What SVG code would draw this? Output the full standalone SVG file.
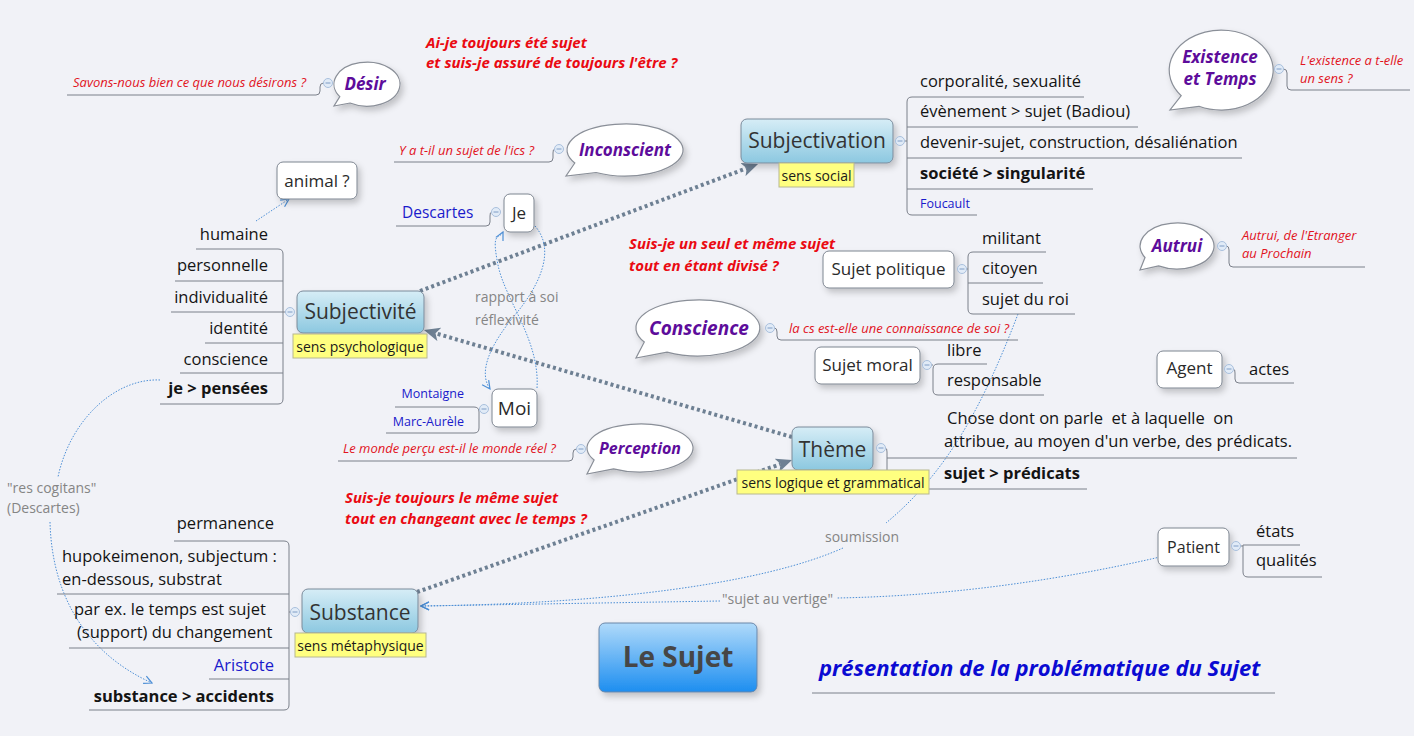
<svg xmlns="http://www.w3.org/2000/svg" width="1414" height="736" viewBox="0 0 1414 736">
<defs>
<style>
text{font-family:"Open Sans","Noto Sans","DejaVu Sans",sans-serif}
.br{font-size:16.5px;fill:#141414}
.sm{font-size:12.5px}
.b{font-weight:bold}
.end{text-anchor:end}
.red{font-size:13px;font-style:italic;fill:#e1141e}
.q{font-size:15px;font-weight:bold;font-style:italic;fill:#ea0a12}
.bub{font-weight:bold;font-style:italic;fill:#5d0c9b;text-anchor:middle}
.blue{fill:#1a1acb}
.gray{font-size:14px;fill:#858585}
.nt{font-size:21px;fill:#333;text-anchor:middle}
.nw{font-size:17px;fill:#2a2a2a;text-anchor:middle}
.lab{font-size:14px;fill:#1a1a1a;text-anchor:middle}
.ln{fill:none;stroke:#7b808a;stroke-width:1}
.bx{fill:url(#gb);stroke:#7a8a9a;stroke-width:1}
.wx{fill:#fff;stroke:#7d8590;stroke-width:1}
.yl{fill:#ffff80;stroke:#b8b890;stroke-width:1}
.bb{fill:#fff;stroke:#8a8f98;stroke-width:1.2}
.rel{fill:none;stroke:#6e8093;stroke-width:4;stroke-dasharray:3 3}
.thin{fill:none;stroke:#4d8fd6;stroke-width:1;stroke-dasharray:1.5 1.5}
</style>
<linearGradient id="gb" x1="0" y1="0" x2="0" y2="1">
<stop offset="0" stop-color="#d6edf6"/><stop offset="1" stop-color="#8cc8e0"/>
</linearGradient>
<linearGradient id="gc" x1="0" y1="0" x2="0" y2="1">
<stop offset="0" stop-color="#b0dafa"/><stop offset="1" stop-color="#1d8ef0"/>
</linearGradient>
<filter id="sh" x="-20%" y="-20%" width="150%" height="170%">
<feDropShadow dx="3" dy="4" stdDeviation="3" flood-color="#000" flood-opacity="0.2"/>
</filter>
<g id="c"><circle r="4.5" fill="#e1ebf7" stroke="#a9c0dd" stroke-width="1"/><path d="M-2.5 0H2.5" stroke="#7f9cc5" stroke-width="1"/></g>
<marker id="ah" markerUnits="userSpaceOnUse" markerWidth="16" markerHeight="14" refX="4" refY="7" orient="auto"><path d="M0,0 L16,7 L0,14 L4,7 Z" fill="#6e8093"/></marker>
<marker id="ta" markerUnits="userSpaceOnUse" markerWidth="10" markerHeight="10" refX="9" refY="5" orient="auto"><path d="M1,1 L9,5 L1,9" fill="none" stroke="#4d8fd6" stroke-width="1.2"/></marker>
</defs>
<rect width="1414" height="736" fill="#f1f2f7"/>

<g id="connectors">
<path class="rel" d="M420,291 L746.8,168.2" marker-end="url(#ah)"/>
<path class="rel" d="M792,437 L435.5,333.3" marker-end="url(#ah)"/>
<path class="rel" d="M417,592 L780.7,464" marker-end="url(#ah)"/>
<path class="thin" d="M256,221 L289,199" marker-end="url(#ta)"/>
<path class="thin" d="M535,226 C556,250 540,285 515,315 S478,372 490,389" marker-end="url(#ta)"/>
<path class="thin" d="M537,388 C540,340 505,300 498,265 S499,240 503,232" marker-end="url(#ta)"/>
<path class="thin" d="M160,380 C115,378 70,420 58,477"/>
<path class="thin" d="M50,522 C52,600 90,655 152,683" marker-end="url(#ta)"/>
<path class="thin" d="M1018,314 C985,400 950,470 886,523"/>
<path class="thin" d="M843,548 C760,585 600,604 421,606" marker-end="url(#ta)"/>
<path class="thin" d="M1160,557 C1060,580 950,596 837,598"/>
<path class="thin" d="M720,601 L421,606" marker-end="url(#ta)"/>
<text class="gray" x="475" y="302">rapport à soi</text>
<text class="gray" x="475" y="325">réflexivité</text>
<text class="gray" x="7" y="493">"res cogitans"</text>
<text class="gray" x="7" y="513">(Descartes)</text>
<text class="gray" x="825" y="542">soumission</text>
<text class="gray" x="722" y="604">"sujet au vertige"</text>
</g>

<g id="q1"><text class="q" x="426" y="48">Ai-je toujours été sujet</text><text class="q" x="426" y="68">et suis-je assuré de toujours l'être ?</text></g>
<g id="q2"><text class="q" x="629" y="249">Suis-je un seul et même sujet</text><text class="q" x="629" y="271">tout en étant divisé ?</text></g>
<g id="q3"><text class="q" x="345" y="503">Suis-je toujours le même sujet</text><text class="q" x="345" y="524">tout en changeant avec le temps ?</text></g>

<g id="desir">
<path class="ln" d="M323.5,83 Q320,83 320,87 V91 Q320,95 316,95 H67"/>
<text class="red" x="73" y="87">Savons-nous bien ce que nous désirons ?</text>
<path class="bb" filter="url(#sh)" d="M339.8,96.6 L334,106 L350,103 A33,22 0 1 0 339.8,96.6 Z"/>
<text class="bub" x="365" y="90" font-size="17">Désir</text>
<use href="#c" x="328" y="83"/>
</g>

<g id="inconscient">
<path class="ln" d="M554.5,149 Q553,149 553,153 V158 Q553,162 549,162 H394"/>
<text class="red" x="399" y="155">Y a t-il un sujet de l'ics ?</text>
<path class="bb" filter="url(#sh)" d="M574.8,163 L566,176 L596,172.5 A58,26 0 1 0 574.8,163 Z"/>
<text class="bub" x="625" y="156" font-size="17">Inconscient</text>
<use href="#c" x="559" y="149"/>
</g>

<g id="existence">
<path class="ln" d="M1283.5,69 Q1287,69 1287,73 V86 Q1287,90 1291,90 H1410"/>
<text class="red" x="1300" y="65">L'existence a t-elle</text>
<text class="red" x="1300" y="83">un sens ?</text>
<path class="bb" filter="url(#sh)" d="M1181.2,95.7 L1170,110 L1199,106.3 A52,40 0 1 0 1181.2,95.7 Z"/>
<text class="bub" x="1220" y="63" font-size="17">Existence</text>
<text class="bub" x="1220" y="85" font-size="17">et Temps</text>
<use href="#c" x="1279" y="69"/>
</g>

<g id="autrui">
<path class="ln" d="M1226.5,246 Q1229,246 1229,250 V263 Q1229,267 1233,267 H1365"/>
<text class="red" x="1242" y="240">Autrui, de l'Etranger</text>
<text class="red" x="1242" y="258">au Prochain</text>
<path class="bb" filter="url(#sh)" d="M1145,257.5 L1140,270 L1158.5,265.9 A37,23 0 1 0 1145,257.5 Z"/>
<text class="bub" x="1177" y="252" font-size="17">Autrui</text>
<use href="#c" x="1222" y="246"/>
</g>

<g id="conscience">
<path class="ln" d="M774.5,328 Q777,328 777,332 V336 Q777,340 781,340 H1018"/>
<text class="red" x="789" y="333">la cs est-elle une connaissance de soi ?</text>
<path class="bb" filter="url(#sh)" d="M644.3,342 L636,358 L667,352.2 A62,28 0 1 0 644.3,342 Z"/>
<text class="bub" x="699" y="335" font-size="19">Conscience</text>
<use href="#c" x="770" y="328"/>
</g>

<g id="perception">
<path class="ln" d="M576.5,449 Q573,449 573,453 V457 Q573,461 569,461 H338"/>
<text class="red" x="343" y="453">Le monde perçu est-il le monde réel ?</text>
<path class="bb" filter="url(#sh)" d="M594.1,460 L587,474 L613.5,468.8 A53,24 0 1 0 594.1,460 Z"/>
<text class="bub" x="640" y="454" font-size="16">Perception</text>
<use href="#c" x="581" y="449"/>
</g>

<g id="subjectivation">
<path class="ln" d="M904.5,141 H907 M1084,97 H912 Q907,97 907,102 V210 Q907,215 912,215 H977 M907,127 H1138 M907,158 H1242 M907,189 H1093"/>
<text class="br" x="920" y="87">corporalité, sexualité</text>
<text class="br" x="920" y="117">évènement &gt; sujet (Badiou)</text>
<text class="br" x="920" y="148">devenir-sujet, construction, désaliénation</text>
<text class="br b" x="920" y="179">société &gt; singularité</text>
<text class="br blue sm" x="920" y="208">Foucault</text>
<rect class="bx" filter="url(#sh)" x="741" y="119" width="152" height="44" rx="6"/>
<text class="nt" x="817" y="148">Subjectivation</text>
<rect class="yl" x="779" y="163" width="75" height="24"/>
<text class="lab" x="816.5" y="181">sens social</text>
<use href="#c" x="900" y="141"/>
</g>

<g id="animal">
<rect class="wx" filter="url(#sh)" x="277" y="162" width="80" height="37" rx="6"/>
<text class="nw" x="317" y="187">animal ?</text>
</g>

<g id="subjectivite">
<path class="ln" d="M285.5,312 H283 M196,249 H278 Q283,249 283,254 V399 Q283,404 278,404 H160 M175,281 H283 M171,312 H283 M205,343 H283 M180,373 H283"/>
<text class="br end" x="268" y="240">humaine</text>
<text class="br end" x="268" y="271">personnelle</text>
<text class="br end" x="268" y="303">individualité</text>
<text class="br end" x="268" y="334">identité</text>
<text class="br end" x="268" y="365">conscience</text>
<text class="br b end" x="268" y="394">je &gt; pensées</text>
<rect class="bx" filter="url(#sh)" x="297" y="291" width="127" height="42" rx="6"/>
<text class="nt" x="360.5" y="319">Subjectivité</text>
<rect class="yl" x="293" y="334" width="134" height="24"/>
<text class="lab" x="360" y="352">sens psychologique</text>
<use href="#c" x="290" y="312"/>
</g>

<g id="je">
<path class="ln" d="M491.5,212 Q490,212 490,216 V222 Q490,226 486,226 H396"/>
<text class="blue" x="402" y="218" style="font-size:15.5px">Descartes</text>
<rect class="wx" filter="url(#sh)" x="504" y="194" width="30" height="38" rx="6"/>
<text class="nw" x="519" y="219">Je</text>
<use href="#c" x="496" y="212"/>
</g>

<g id="moi">
<path class="ln" d="M479.5,409 H479 M395,407 H474 Q479,407 479,412 V428 Q479,433 474,433 H386"/>
<text class="blue sm end" x="464" y="398">Montaigne</text>
<text class="blue sm end" x="464" y="426">Marc-Aurèle</text>
<rect class="wx" filter="url(#sh)" x="492" y="389" width="45" height="38" rx="6"/>
<text class="nw" x="514.5" y="415" style="font-size:19px">Moi</text>
<use href="#c" x="484" y="409"/>
</g>

<g id="sujet-politique">
<path class="ln" d="M966.5,269 H968 M1046,252 H973 Q968,252 968,257 V309 Q968,314 973,314 H1075 M968,283 H1043"/>
<text class="br" x="982" y="244">militant</text>
<text class="br" x="982" y="274">citoyen</text>
<text class="br" x="982" y="305">sujet du roi</text>
<rect class="wx" filter="url(#sh)" x="823" y="251" width="131" height="37" rx="6"/>
<text class="nw" x="888.5" y="275">Sujet politique</text>
<use href="#c" x="962" y="269"/>
</g>

<g id="sujet-moral">
<path class="ln" d="M931.5,365 H933 M987,364 H938 Q933,364 933,369 V390 Q933,395 938,395 H1044"/>
<text class="br" x="947" y="356">libre</text>
<text class="br" x="947" y="386">responsable</text>
<rect class="wx" filter="url(#sh)" x="815" y="347" width="105" height="37" rx="6"/>
<text class="nw" x="867.5" y="371">Sujet moral</text>
<use href="#c" x="927" y="365"/>
</g>

<g id="agent">
<path class="ln" d="M1233.5,369 Q1235,369 1235,373 V379 Q1235,383 1239,383 H1294"/>
<text class="br" x="1249" y="375">actes</text>
<rect class="wx" filter="url(#sh)" x="1157" y="351" width="65" height="37" rx="6"/>
<text class="nw" x="1189.5" y="374">Agent</text>
<use href="#c" x="1229" y="369"/>
</g>

<g id="theme">
<path class="ln" d="M885.5,448 Q887,448 887,452 V484 Q887,489 892,489 H1087 M887,458 H1297"/>
<text class="br" x="947" y="424" style="white-space:pre">Chose dont on parle  et à laquelle  on</text>
<text class="br" x="944" y="447">attribue, au moyen d'un verbe, des prédicats.</text>
<text class="br b" x="944" y="479">sujet &gt; prédicats</text>
<rect class="bx" filter="url(#sh)" x="792" y="427" width="81" height="43" rx="6"/>
<text class="nt" x="832.5" y="457">Thème</text>
<rect class="yl" x="737" y="470" width="192" height="24"/>
<text class="lab" x="833" y="488">sens logique et grammatical</text>
<use href="#c" x="881" y="448"/>
</g>

<g id="substance">
<path class="ln" d="M290.5,612 H289 M174,541 H284 Q289,541 289,546 V705 Q289,710 284,710 H89 M57,594 H289 M69,648 H289 M209,679 H289"/>
<text class="br end" x="274" y="529">permanence</text>
<text class="br" x="62" y="562">hupokeimenon, subjectum :</text>
<text class="br" x="62" y="585">en-dessous, substrat</text>
<text class="br" x="74" y="615">par ex. le temps est sujet</text>
<text class="br" x="77" y="638">(support) du changement</text>
<text class="br blue end" x="274" y="671">Aristote</text>
<text class="br b end" x="274" y="702">substance &gt; accidents</text>
<rect class="bx" filter="url(#sh)" x="302" y="589" width="116" height="44" rx="6"/>
<text class="nt" x="360" y="620">Substance</text>
<rect class="yl" x="295" y="633" width="131" height="24"/>
<text class="lab" x="360.5" y="651">sens métaphysique</text>
<use href="#c" x="295" y="612"/>
</g>

<g id="patient">
<path class="ln" d="M1240.5,546 H1243 M1300,545 H1243 V572 Q1243,577 1248,577 H1322"/>
<text class="br" x="1256" y="537">états</text>
<text class="br" x="1256" y="566">qualités</text>
<rect class="wx" filter="url(#sh)" x="1158" y="528" width="71" height="38" rx="6"/>
<text class="nw" x="1193.5" y="553" style="font-size:16px">Patient</text>
<use href="#c" x="1236" y="546"/>
</g>

<g id="le-sujet">
<rect filter="url(#sh)" x="599" y="623" width="158" height="69" rx="6" fill="url(#gc)" stroke="#6a86a8" stroke-width="1"/>
<text x="678" y="667" text-anchor="middle" font-size="28" font-weight="bold" fill="#464646">Le Sujet</text>
</g>

<g id="presentation">
<text x="819" y="676" font-size="22" font-weight="bold" font-style="italic" fill="#0a0ad2">présentation de la problématique du Sujet</text>
<path class="ln" d="M812,693 H1275"/>
</g>
</svg>
